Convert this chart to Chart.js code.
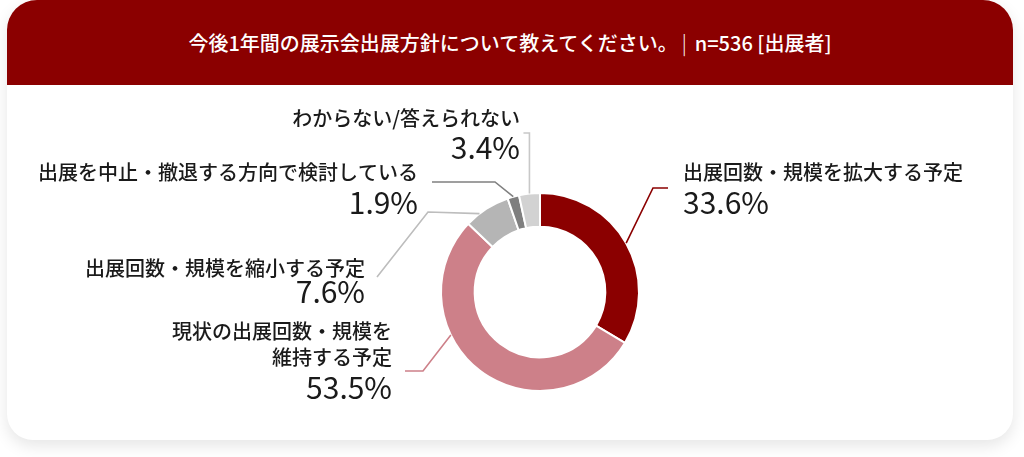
<!DOCTYPE html>
<html lang="ja">
<head>
<meta charset="utf-8">
<script src="https://cdn.jsdelivr.net/npm/chart.js@4/dist/chart.umd.min.js"></script>
<style>
  html, body { margin: 0; padding: 0; background: #fff; }
  body { width: 1024px; height: 457px; position: relative; overflow: hidden; font-family: "Noto Sans CJK JP", "Noto Sans", sans-serif; }
  .card {
    position: absolute; left: 7px; top: 0; width: 1006px; height: 440px;
    background: #fff; border-radius: 30px 30px 26px 26px;
    box-shadow: 0 6px 16px rgba(0,0,0,0.10);
    overflow: hidden;
  }
  .card-head {
    height: 85px; background: #8b0000; color: #fff;
    display: flex; align-items: center; justify-content: center;
    font-size: 20px; font-weight: 500;
  }
  .card-head span.bar { font-weight: 300; margin: 0 8px 0 4px; }
  #chart { position: absolute; left: 0; top: 0; }
</style>
</head>
<body>
<div class="card">
  <div class="card-head"><div>今後1年間の展示会出展方針について教えてください。<span class="bar">|</span>n=536 [出展者]</div></div>
</div>
<canvas id="chart" width="1024" height="457"></canvas>
<script>
// --- data ---
const categories = [
  '出展回数・規模を拡大する予定',
  ['現状の出展回数・規模を', '維持する予定'],
  '出展回数・規模を縮小する予定',
  '出展を中止・撤退する方向で検討している',
  'わからない/答えられない'
];
const shares = [33.6, 53.5, 7.6, 1.9, 3.4];
const sliceColors = ['#8b0000', '#cd8089', '#b5b5b5', '#7f7f7f', '#d2d2d2'];
const lineColors  = ['#8b0000', '#cd8089', '#bdbdbd', '#808080', '#c8c8c8'];

// leader line / text placement, offsets from doughnut centre (px)
const callouts = [
  { frac: 0.5,  path: [[113, -104], [128, -104]], align: 'left',  tx: 143,  ty: [-120], py: -89 },
  { frac: 0.64, path: [[-117, 79], [-135, 79]],   align: 'right', tx: -148, ty: [39, 65], py: 96 },
  { frac: 0.32, path: [[-112, -80], [-163, -15]], align: 'right', tx: -175, ty: [-24], py: 0 },
  { frac: 0.5,  path: [[-45, -110], [-108, -110]], align: 'right', tx: -122, ty: [-120], py: -89 },
  { frac: 0.5,  path: null, align: 'right', tx: -20, ty: [-174], py: -144 }
];

const calloutPlugin = {
  id: 'callouts',
  afterDraw(chart) {
    const ctx = chart.ctx;
    const meta = chart.getDatasetMeta(0);
    meta.data.forEach((arc, i) => {
      const c = callouts[i];
      const cx = arc.x, cy = arc.y, r = arc.outerRadius;
      const a = arc.startAngle + (arc.endAngle - arc.startAngle) * c.frac;
      const sx = cx + Math.cos(a) * r, sy = cy + Math.sin(a) * r;
      ctx.save();
      ctx.strokeStyle = lineColors[i];
      ctx.lineWidth = 1.6;
      ctx.beginPath();
      ctx.moveTo(sx, sy);
      if (c.path) {
        c.path.forEach(p => ctx.lineTo(cx + p[0], cy + p[1]));
      } else {
        ctx.lineTo(sx, cy - 159);
        ctx.lineTo(sx - 6, cy - 159);
      }
      ctx.stroke();

      ctx.fillStyle = '#1a1a1a';
      ctx.textAlign = c.align;
      ctx.textBaseline = 'middle';
      ctx.font = '500 20px "Noto Sans CJK JP", sans-serif';
      const lines = Array.isArray(categories[i]) ? categories[i] : [categories[i]];
      lines.forEach((t, k) => ctx.fillText(t, cx + c.tx, cy + c.ty[k]));
      ctx.font = '400 30px "Noto Sans CJK JP", sans-serif';
      ctx.fillText(shares[i].toFixed(1) + '%', cx + c.tx, cy + c.py);
      ctx.restore();
    });
  }
};

new Chart(document.getElementById('chart').getContext('2d'), {
  type: 'doughnut',
  data: {
    labels: categories,
    datasets: [{
      data: shares,
      backgroundColor: sliceColors,
      borderColor: '#ffffff',
      borderWidth: 2
    }]
  },
  options: {
    responsive: false,
    animation: false,
    cutout: '66%',
    layout: { padding: { left: 440, right: 384, top: 192, bottom: 65 } },
    plugins: { legend: { display: false }, tooltip: { enabled: false } }
  },
  plugins: [calloutPlugin]
});
</script>
</body>
</html>
